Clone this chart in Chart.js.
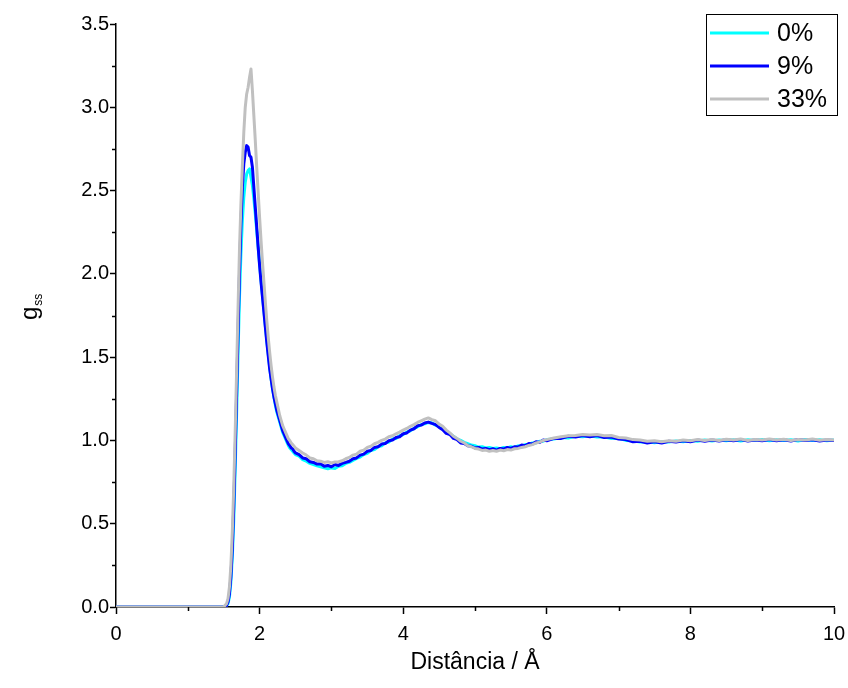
<!DOCTYPE html>
<html>
<head>
<meta charset="utf-8">
<script src="https://cdn.jsdelivr.net/npm/chart.js@4.4.1/dist/chart.umd.min.js"></script>
<style>
  html, body { margin: 0; padding: 0; background: #ffffff; }
  #wrap { width: 848px; height: 688px; }
</style>
</head>
<body>
<div id="wrap"><canvas id="c" width="848" height="688"></canvas></div>
<script>
// ---- data ----
const distance = [
  0,
  1.50,1.52,1.54,1.56,1.58,1.60,1.62,1.64,1.66,1.68,1.70,1.72,1.74,1.76,1.78,1.80,1.82,1.84,1.86,1.88,
  1.90,1.92,1.94,1.96,1.98,2.00,2.02,2.04,2.06,2.08,2.10,2.12,2.14,2.16,2.18,2.20,2.22,2.24,2.26,2.28,
  2.30,2.32,2.34,2.36,2.38,2.40,2.42,2.44,2.46,2.48,2.50,
  2.55,2.60,2.65,2.70,2.75,2.80,2.85,2.90,2.95,3.00,3.05,3.10,3.15,3.20,3.25,3.30,3.35,3.40,3.45,3.50,
  3.55,3.60,3.65,3.70,3.75,3.80,3.85,3.90,3.95,4.00,4.05,4.10,4.15,4.20,4.25,4.30,4.35,4.40,4.45,4.50,
  4.55,4.60,4.65,4.70,4.75,4.80,4.85,4.90,4.95,5.00,5.05,5.10,5.15,5.20,5.25,5.30,5.35,5.40,5.45,5.50,
  5.55,5.60,5.65,5.70,5.75,5.80,5.85,5.90,5.95,6.00,
  6.1,6.2,6.3,6.4,6.5,6.6,6.7,6.8,6.9,7.0,7.1,7.2,7.3,7.4,7.5,7.6,7.7,7.8,7.9,8.0,
  8.1,8.2,8.3,8.4,8.5,8.6,8.7,8.8,8.9,9.0,9.1,9.2,9.3,9.4,9.5,9.6,9.7,9.8,9.9,10.0
];

const g0 = [
  0,
  0.00,0.00,0.01,0.02,0.06,0.15,0.30,0.52,0.82,1.16,1.52,1.86,2.12,2.32,2.46,2.55,2.60,2.62,2.63,2.58,
  2.53,2.45,2.36,2.26,2.16,2.06,1.96,1.87,1.78,1.69,1.60,1.52,1.44,1.37,1.31,1.26,1.21,1.17,1.14,1.11,
  1.08,1.05,1.03,1.01,0.99,0.97,0.955,0.945,0.935,0.925,0.915,
  0.905,0.885,0.875,0.862,0.855,0.848,0.842,0.835,0.830,0.835,0.832,0.845,0.848,0.862,0.868,0.880,0.892,0.900,0.915,0.922,
  0.940,0.945,0.962,0.968,0.985,0.990,1.008,1.012,1.028,1.035,1.050,1.058,1.072,1.082,1.095,1.100,1.108,1.105,1.092,1.085,
  1.068,1.055,1.040,1.025,1.010,1.000,0.988,0.980,0.972,0.968,0.960,0.962,0.955,0.958,0.952,0.955,0.950,0.958,0.955,0.962,
  0.958,0.968,0.965,0.975,0.975,0.985,0.985,0.995,0.995,1.005,
  1.008,1.018,1.015,1.025,1.022,1.028,1.020,1.022,1.012,1.012,1.000,0.998,0.990,0.992,0.986,0.992,0.990,0.996,0.992,1.000,
  0.995,1.002,0.997,1.003,0.998,1.004,0.997,1.004,0.999,1.005,0.998,1.004,0.999,1.004,0.997,1.005,0.999,1.004,0.998,1.003
];

const g9 = [
  0,
  0.00,0.00,0.01,0.03,0.08,0.18,0.35,0.60,0.92,1.28,1.65,2.00,2.30,2.52,2.66,2.73,2.77,2.76,2.71,2.70,
  2.64,2.52,2.40,2.28,2.16,2.05,1.95,1.86,1.77,1.68,1.59,1.51,1.43,1.37,1.31,1.26,1.22,1.18,1.15,1.12,
  1.09,1.06,1.04,1.02,1.00,0.98,0.97,0.955,0.95,0.935,0.925,
  0.915,0.895,0.890,0.872,0.868,0.858,0.860,0.845,0.850,0.842,0.855,0.850,0.862,0.868,0.875,0.890,0.895,0.912,0.918,0.935,
  0.940,0.958,0.962,0.978,0.982,0.998,1.002,1.018,1.022,1.040,1.045,1.062,1.070,1.088,1.092,1.105,1.110,1.102,1.095,1.078,
  1.065,1.042,1.035,1.012,1.005,0.985,0.982,0.968,0.965,0.955,0.958,0.948,0.952,0.945,0.950,0.942,0.952,0.948,0.958,0.952,
  0.962,0.960,0.972,0.968,0.982,0.978,0.992,0.988,1.002,0.998,
  1.012,1.012,1.025,1.020,1.030,1.022,1.030,1.018,1.020,1.008,1.005,0.992,0.995,0.985,0.992,0.985,0.995,0.990,0.998,0.992,
  1.002,0.995,1.002,0.996,1.004,0.998,1.005,0.996,1.003,0.998,1.006,0.998,1.004,0.997,1.005,0.999,1.004,0.996,1.003,0.999
];

const g33 = [
  0,
  0.00,0.01,0.02,0.05,0.12,0.25,0.45,0.72,1.05,1.42,1.80,2.15,2.42,2.65,2.85,3.00,3.08,3.12,3.18,3.23,
  3.10,2.95,2.80,2.64,2.49,2.34,2.20,2.07,1.95,1.83,1.72,1.62,1.53,1.45,1.38,1.32,1.27,1.23,1.19,1.15,
  1.12,1.09,1.07,1.05,1.03,1.01,1.00,0.985,0.975,0.965,0.955,
  0.940,0.925,0.912,0.895,0.890,0.878,0.875,0.868,0.872,0.865,0.870,0.872,0.878,0.890,0.898,0.912,0.918,0.935,0.942,0.958,
  0.965,0.980,0.988,1.000,1.008,1.022,1.028,1.040,1.050,1.062,1.072,1.085,1.095,1.108,1.118,1.128,1.135,1.125,1.118,1.098,
  1.085,1.062,1.045,1.025,1.012,0.995,0.985,0.968,0.962,0.952,0.948,0.940,0.942,0.935,0.940,0.935,0.942,0.938,0.945,0.942,
  0.950,0.952,0.958,0.962,0.970,0.975,0.985,0.990,1.000,1.005,
  1.015,1.022,1.028,1.030,1.035,1.032,1.035,1.028,1.030,1.018,1.015,1.005,1.002,0.995,0.998,0.992,0.998,0.995,1.002,0.998,
  1.005,1.000,1.006,1.000,1.007,1.002,1.008,1.000,1.006,1.002,1.008,1.002,1.007,1.000,1.006,1.002,1.008,1.001,1.006,1.002
];

const seriesLabels = ['0%', '9%', '33%'];
const yTicks = [0, 0.5, 1.0, 1.5, 2.0, 2.5, 3.0, 3.5];
const xTicks = [0, 2, 4, 6, 8, 10];
const yMinor = [0.25, 0.75, 1.25, 1.75, 2.25, 2.75, 3.25];
const xMinor = [1, 3, 5, 7, 9];
const xTitle = 'Distância / Å';

// ---- chart ----
function pts(ys) { return distance.map((x, i) => ({ x: x, y: ys[i] })); }

const FONT = '"Liberation Sans", Arial, sans-serif';

const extras = {
  id: 'extras',
  afterDraw(chart) {
    const ctx = chart.ctx;
    const xs = chart.scales.x, ys = chart.scales.y;
    const area = chart.chartArea;
    ctx.save();
    // minor ticks
    ctx.strokeStyle = '#000';
    ctx.lineWidth = 1.5;
    ctx.beginPath();
    yMinor.forEach(v => {
      const p = Math.round(ys.getPixelForValue(v)) + 0.5;
      ctx.moveTo(area.left - 4, p); ctx.lineTo(area.left, p);
    });
    xMinor.forEach(v => {
      const p = Math.round(xs.getPixelForValue(v)) + 0.5;
      ctx.moveTo(p, area.bottom); ctx.lineTo(p, area.bottom + 4);
    });
    ctx.stroke();

    // y-axis title g_ss
    ctx.fillStyle = '#000';
    ctx.translate(37, 320);
    ctx.rotate(-Math.PI / 2);
    ctx.textBaseline = 'alphabetic';
    ctx.textAlign = 'left';
    ctx.font = '24px ' + FONT;
    ctx.fillText('g', 0, 0);
    const gw = ctx.measureText('g').width;
    ctx.font = '12px ' + FONT;
    ctx.fillText('ss', gw + 1, 5);
    ctx.restore();

    // legend box
    ctx.save();
    const bx = 706, by = 14, bw = 131, bh = 101;
    ctx.strokeStyle = '#000';
    ctx.lineWidth = 1;
    ctx.strokeRect(bx + 0.5, by + 0.5, bw, bh);
    ctx.font = '25px ' + FONT;
    ctx.textBaseline = 'middle';
    ctx.textAlign = 'left';
    chart.data.datasets.forEach((ds, i) => {
      const yy = 33 + i * 33;
      ctx.strokeStyle = ds.borderColor;
      ctx.lineWidth = 3;
      ctx.beginPath();
      ctx.moveTo(710, yy); ctx.lineTo(769, yy);
      ctx.stroke();
      ctx.fillStyle = '#000';
      ctx.fillText(ds.label, 777, yy + 1);
    });
    ctx.restore();
  }
};

new Chart(document.getElementById('c'), {
  type: 'line',
  data: {
    datasets: [
      { label: seriesLabels[0], data: pts(g0), borderColor: '#00FFFF', order: 3 },
      { label: seriesLabels[1], data: pts(g9), borderColor: '#0000FF', order: 2 },
      { label: seriesLabels[2], data: pts(g33), borderColor: '#C0C0C0', order: 1 }
    ]
  },
  options: {
    responsive: false,
    animation: false,
    events: [],
    layout: { padding: { top: 24, right: 14, left: 0, bottom: 0 } },
    elements: {
      point: { radius: 0 },
      line: { borderWidth: 3, tension: 0, borderJoinStyle: 'round', borderCapStyle: 'round' }
    },
    plugins: { legend: { display: false }, tooltip: { enabled: false } },
    scales: {
      x: {
        type: 'linear', min: 0, max: 10,
        afterFit(s) { s.height = 81; s.paddingLeft = 0; s.paddingRight = 0; },
        afterBuildTicks(s) { s.ticks = xTicks.map(v => ({ value: v })); },
        border: { display: true, color: '#000', width: 1.5 },
        grid: { drawOnChartArea: false, drawTicks: true, tickLength: 7, tickColor: '#000', tickWidth: 1.5 },
        ticks: { color: '#000', font: { family: FONT, size: 20 }, padding: 8, maxRotation: 0,
                 callback: v => String(v) },
        title: { display: true, text: xTitle, color: '#000', font: { family: FONT, size: 23 }, padding: { top: 4, bottom: 12 } }
      },
      y: {
        type: 'linear', min: 0, max: 3.5,
        afterFit(s) { s.width = 116; s.paddingTop = 0; s.paddingBottom = 0; },
        afterBuildTicks(s) { s.ticks = yTicks.map(v => ({ value: v })); },
        border: { display: true, color: '#000', width: 1.5 },
        grid: { drawOnChartArea: false, drawTicks: true, tickLength: 6, tickColor: '#000', tickWidth: 1.5 },
        ticks: { color: '#000', font: { family: FONT, size: 20 }, padding: 1,
                 callback: v => Number(v).toFixed(1) }
      }
    }
  },
  plugins: [extras]
});
</script>
</body>
</html>
